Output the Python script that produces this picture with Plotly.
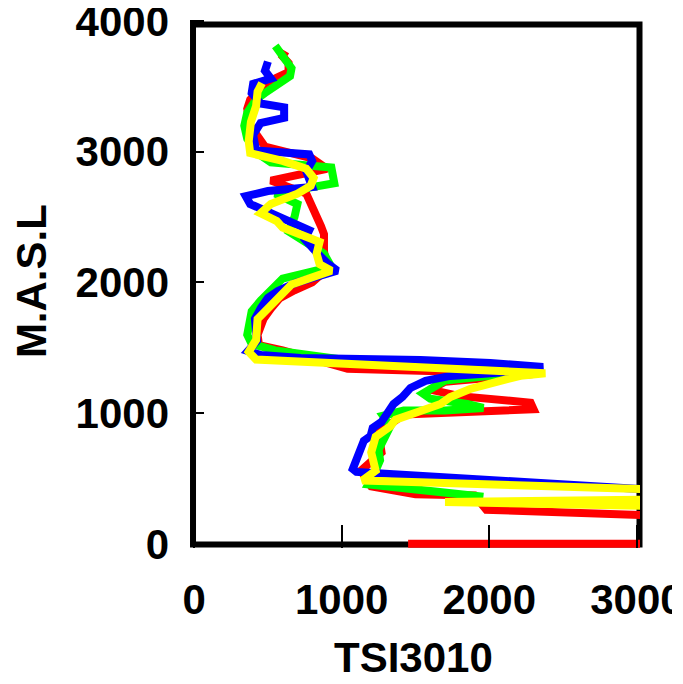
import plotly.graph_objects as go

# ---- data (TSI3010 concentration vs altitude, m a.s.l.) ----
red_x = [1450, 3300, 3300, 1980, 1900, 1500, 1200, 1130, 1270, 1250, 1420, 2300, 2280, 1800, 1600,
         1700, 2300, 1040, 600, 440, 430, 470, 520, 580, 680, 800, 900, 880, 880, 860, 760, 520,
         900, 800, 480, 380, 360, 380, 490, 640, 640, 600, 620]
red_alt = [0, 0, 210, 260, 370, 380, 440, 560, 700, 850, 990, 1030, 1080, 1130, 1180,
           1240, 1300, 1340, 1480, 1520, 1600, 1720, 1800, 1880, 1940, 2000, 2100, 2240, 2370, 2430, 2680, 2780,
           2870, 2950, 3040, 3200, 3330, 3400, 3530, 3610, 3680, 3730, 3770]

green_x = [1960, 1180, 1230, 1260, 1250, 1300, 1330, 1280, 1420, 1700, 1960, 1850, 1600, 1550, 1700,
           2300, 1000, 550, 390, 360, 370, 390, 450, 500, 560, 600, 930, 880, 640, 680, 700, 550,
           950, 930, 520, 440, 360, 340, 360, 420, 480, 570, 650, 660, 620, 580, 550]
green_alt = [360, 455, 560, 640, 720, 830, 900, 980, 1020, 1020, 1040, 1070, 1110, 1150, 1250,
             1320, 1410, 1480, 1530, 1600, 1700, 1780, 1860, 1920, 1980, 2030, 2120, 2220, 2390, 2500, 2600, 2680,
             2760, 2880, 2920, 2980, 3100, 3200, 3300, 3400, 3450, 3520, 3580, 3640, 3700, 3760, 3810]

blue_x = [3300, 1100, 1075, 1128, 1150, 1196, 1210, 1270, 1318, 1351, 1412, 1466, 1568, 1736, 1940,
          2210, 2365, 2007, 1534, 723, 453, 365, 426, 412, 453, 500, 568, 689, 970, 900, 830, 750,
          780, 650, 500, 380, 350, 500, 800, 780, 760, 800, 780, 420, 400, 450, 610, 610, 450, 390,
          400, 520, 480, 500]
blue_alt = [400, 550, 573, 703, 788, 826, 887, 933, 1002, 1070, 1124, 1193, 1247, 1285, 1300,
            1323, 1354, 1384, 1407, 1422, 1445, 1476, 1553, 1721, 1805, 1882, 1935, 1997, 2090, 2150, 2230, 2330,
            2400, 2460, 2530, 2600, 2660, 2700, 2730, 2780, 2850, 2930, 2980, 3010, 3130, 3220, 3260, 3340, 3370, 3450,
            3520, 3560, 3620, 3690]

yellow_x = [3300, 1700, 3300, 3300, 1140, 1230, 1200, 1230, 1330, 1365, 1520, 1670, 1736, 1870, 2075,
            2210, 2380, 1000, 420, 370, 420, 430, 510, 600, 660, 930, 850, 830, 850, 600, 560, 450,
            520, 700, 790, 810, 760, 600, 380, 370, 385, 420, 430, 460]
yellow_alt = [285, 320, 340, 410, 485, 560, 700, 820, 900, 950, 1010, 1070, 1124, 1185, 1247,
              1285, 1305, 1380, 1410, 1470, 1560, 1720, 1820, 1920, 1985, 2090, 2140, 2220, 2310, 2420, 2470, 2530,
              2600, 2680, 2740, 2800, 2870, 2930, 2990, 3080, 3230, 3350, 3460, 3525]

tick_vals_x = [0, 1000, 2000, 3000]
tick_vals_y = [0, 1000, 2000, 3000, 4000]
x_title = "TSI3010"
y_title = "M.A.S.L"

FONT = "Liberation Sans, Arial, sans-serif"

fig = go.Figure()
for xs, ys, col in [(red_x, red_alt, "#ff0000"), (green_x, green_alt, "#00ff00"),
                    (blue_x, blue_alt, "#0000ff"), (yellow_x, yellow_alt, "#ffff00")]:
    fig.add_trace(go.Scatter(x=xs, y=ys, mode="lines",
                             line=dict(color=col, width=8), showlegend=False, hoverinfo="skip"))

# plot frame (drawn beneath the traces, as in the original)
fig.add_shape(type="rect", xref="paper", yref="paper",
              x0=0.0067, x1=0.9989, y0=0.0066, y1=0.9915,
              line=dict(color="black", width=6), layer="below")

fig.add_annotation(text=x_title, xref="paper", yref="paper", x=0.4956, y=-0.2075,
                   xanchor="center", yanchor="middle", showarrow=False,
                   font=dict(family=FONT, size=42, color="black", weight="bold"))
fig.add_annotation(text=y_title, xref="paper", yref="paper", x=-0.352, y=0.5047,
                   xanchor="center", yanchor="middle", showarrow=False, textangle=-90,
                   font=dict(family=FONT, size=42, color="black", weight="bold"))

fig.update_layout(
    width=664, height=676,
    margin=dict(l=182, r=32, t=12, b=136, pad=0, autoexpand=False),
    plot_bgcolor="white", paper_bgcolor="white",
    showlegend=False,
    xaxis=dict(range=[-27.8, 3021], tickvals=tick_vals_x, showgrid=False, zeroline=False,
               showline=False, ticks="inside", ticklen=23, tickwidth=2, tickcolor="black",
               ticklabelstandoff=23, ticklabeloverflow="allow",
               tickfont=dict(family=FONT, size=42, color="black", weight="bold")),
    yaxis=dict(range=[-32.1, 4008.6], tickvals=tick_vals_y, showgrid=False, zeroline=False,
               showline=False, ticks="inside", ticklen=14, tickwidth=2, tickcolor="black",
               ticklabelstandoff=20, ticklabeloverflow="allow",
               tickfont=dict(family=FONT, size=42, color="black", weight="bold")),
)

fig.write_html("out.html")
